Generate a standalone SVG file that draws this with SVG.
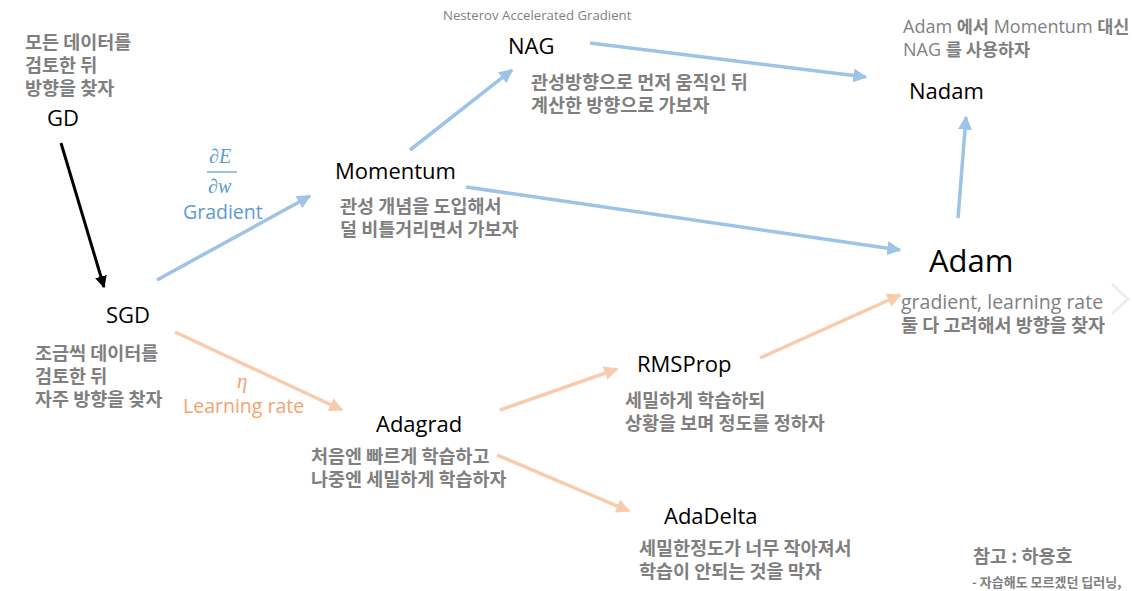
<svg xmlns="http://www.w3.org/2000/svg" width="1132" height="591" viewBox="0 0 1132 591">
  <defs>
    <marker id="ah-black" viewBox="0 0 10 10" refX="9" refY="5" markerWidth="4" markerHeight="4" orient="auto" markerUnits="strokeWidth">
      <path d="M0,0 L10,5 L0,10 z" fill="#000"/>
    </marker>
    <marker id="ah-blue" viewBox="0 0 10 10" refX="9" refY="5" markerWidth="4" markerHeight="4" orient="auto" markerUnits="strokeWidth">
      <path d="M0,0 L10,5 L0,10 z" fill="#9DC3E6"/>
    </marker>
    <marker id="ah-orange" viewBox="0 0 10 10" refX="9" refY="5" markerWidth="4" markerHeight="4" orient="auto" markerUnits="strokeWidth">
      <path d="M0,0 L10,5 L0,10 z" fill="#F8CBAD"/>
    </marker>
  </defs>
  <style>
    .name { font-family: "Open Sans", "Noto Sans", sans-serif; font-size: 22px; fill: #000; }
    .big { font-size: 31px; }
    .desc { font-family: "Noto Sans CJK KR", sans-serif; font-size: 18.5px; font-weight: 700; fill: #7F7F7F; }
    .small { font-family: "Open Sans", "Noto Sans", "Noto Sans CJK KR", sans-serif; font-size: 19.5px; fill: #7F7F7F; }
    .head { font-size: 18px; }
    .head .desc { font-size: 17.5px; }
    .tiny { font-size: 13.2px; }
    .ref1 { font-size: 18.5px; }
    .ref2 { font-size: 13px; }
    .blue { stroke: #9DC3E6; stroke-width: 3.5; fill: none; marker-end: url(#ah-blue); }
    .orange { stroke: #F8CBAD; stroke-width: 3.5; fill: none; marker-end: url(#ah-orange); }
    .black { stroke: #000; stroke-width: 3; fill: none; marker-end: url(#ah-black); }
  </style>
  <rect width="1132" height="591" fill="#fff"/>

  <g id="connectors">
    <line class="black" x1="61" y1="143" x2="104" y2="287"/>
    <line class="blue" x1="157" y1="280" x2="310" y2="196"/>
    <line class="blue" x1="410" y1="150" x2="512" y2="70"/>
    <line class="blue" x1="466" y1="187" x2="900" y2="250"/>
    <line class="blue" x1="590" y1="43" x2="866" y2="77"/>
    <line class="blue" x1="958" y1="218" x2="966" y2="117"/>
    <line class="orange" x1="175" y1="332" x2="342" y2="410"/>
    <line class="orange" x1="500" y1="410" x2="617" y2="369"/>
    <line class="orange" x1="760" y1="358" x2="900" y2="295"/>
    <line class="orange" x1="497" y1="455" x2="629" y2="511"/>
  </g>

  <g id="gd">
    <text class="desc"><tspan x="25" y="49">모든 데이터를</tspan><tspan x="25" y="72">검토한 뒤</tspan><tspan x="25" y="95">방향을 찾자</tspan></text>
    <text class="name" x="47" y="126">GD</text>
  </g>

  <g id="sgd">
    <text class="name" x="106" y="323">SGD</text>
    <text class="desc"><tspan x="35" y="360">조금씩 데이터를</tspan><tspan x="35" y="383">검토한 뒤</tspan><tspan x="35" y="406">자주 방향을 찾자</tspan></text>
  </g>

  <g id="gradient-label" fill="#5B9BD5">
    <text x="209" y="163" font-family="'Liberation Serif', serif" font-style="italic" font-size="20">∂E</text>
    <line x1="207" y1="172" x2="237" y2="172" stroke="#5B9BD5" stroke-width="1.2"/>
    <text x="208" y="193" font-family="'Liberation Serif', serif" font-style="italic" font-size="20">∂w</text>
    <text x="183" y="219" font-family="'Open Sans', sans-serif" font-size="19.5">Gradient</text>
  </g>

  <g id="lr-label" fill="#F4A36E">
    <text x="237" y="388" font-family="'Liberation Serif', serif" font-style="italic" font-size="21">η</text>
    <text x="183" y="413" font-family="'Open Sans', sans-serif" font-size="19.5">Learning rate</text>
  </g>

  <g id="momentum">
    <text class="name" x="335" y="179">Momentum</text>
    <text class="desc"><tspan x="340" y="213">관성 개념을 도입해서</tspan><tspan x="340" y="236">덜 비틀거리면서 가보자</tspan></text>
  </g>

  <g id="nag">
    <text class="small tiny" x="443" y="20">Nesterov Accelerated Gradient</text>
    <text class="name" x="508" y="54">NAG</text>
    <text class="desc"><tspan x="531" y="89">관성방향으로 먼저 움직인 뒤</tspan><tspan x="531" y="112">계산한 방향으로 가보자</tspan></text>
  </g>

  <g id="nadam">
    <text class="small head"><tspan x="903" y="33">Adam <tspan class="desc">에서</tspan> Momentum <tspan class="desc">대신</tspan></tspan><tspan x="903" y="56">NAG <tspan class="desc">를 사용하자</tspan></tspan></text>
    <text class="name" x="909" y="99">Nadam</text>
  </g>

  <g id="adam">
    <text class="name big" x="929" y="272">Adam</text>
    <text class="small" x="901" y="309">gradient, learning rate</text>
    <text class="desc" x="901" y="332">둘 다 고려해서 방향을 찾자</text>
  </g>

  <g id="rmsprop">
    <text class="name" x="637" y="372">RMSProp</text>
    <text class="desc"><tspan x="625" y="407">세밀하게 학습하되</tspan><tspan x="625" y="430">상황을 보며 정도를 정하자</tspan></text>
  </g>

  <g id="adagrad">
    <text class="name" x="376" y="432">Adagrad</text>
    <text class="desc"><tspan x="311" y="463">처음엔 빠르게 학습하고</tspan><tspan x="311" y="486">나중엔 세밀하게 학습하자</tspan></text>
  </g>

  <g id="adadelta">
    <text class="name" x="664" y="524">AdaDelta</text>
    <text class="desc"><tspan x="639" y="555">세밀한정도가 너무 작아져서</tspan><tspan x="639" y="578">학습이 안되는 것을 막자</tspan></text>
  </g>

  <g id="reference">
    <text class="desc ref1" x="973" y="563">참고 : 하용호</text>
    <text class="desc ref2" x="972" y="587">- 자습해도 모르겠던 딥러닝,</text>
  </g>

  <path d="M1112,284 L1128,299 L1112,314" fill="none" stroke="#EDEDED" stroke-width="3"/>
</svg>
